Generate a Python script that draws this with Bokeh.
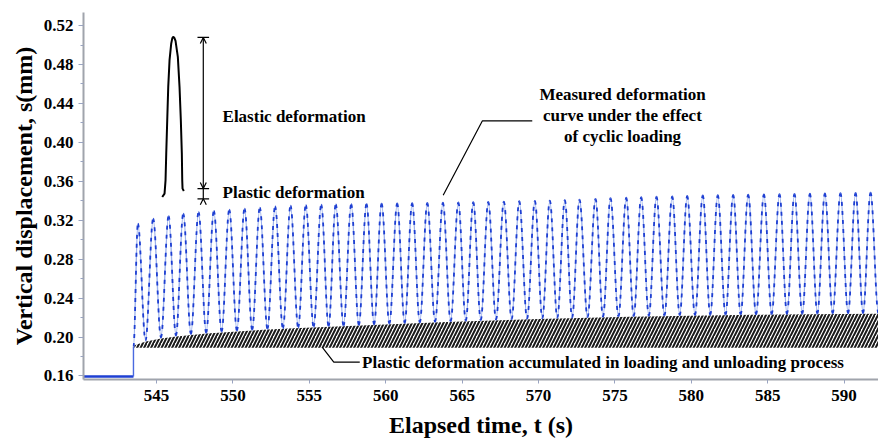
from bokeh.plotting import figure
from bokeh.models import ColumnDataSource, FixedTicker, PrintfTickFormatter, Arrow, OpenHead, Range1d
from bokeh.core.properties import value
from bokeh.embed import file_html
from bokeh.resources import INLINE

# ---------------- data ----------------
x_ticks = [545, 550, 555, 560, 565, 570, 575, 580, 585, 590]
y_ticks = [0.16, 0.20, 0.24, 0.28, 0.32, 0.36, 0.40, 0.44, 0.48, 0.52]
y_minor = [0.18, 0.22, 0.26, 0.30, 0.34, 0.38, 0.42, 0.46, 0.50]

# before loading
base_t = [540.0, 543.49]
base_v = [0.1595, 0.1595]
jump_t = 543.49
jump_v = 0.190

# cycle peaks
peak_t = [543.78, 544.78, 545.79, 546.75, 547.75, 548.75, 549.76, 550.76, 551.76, 552.76,
          553.77, 554.77, 555.78, 556.73, 557.74, 558.74, 559.73, 560.75, 561.73, 562.72,
          563.74, 564.75, 565.73, 566.71, 567.73, 568.74, 569.76, 570.74, 571.72, 572.68,
          573.73, 574.71, 575.74, 576.72, 577.72, 578.75, 579.73, 580.75, 581.73, 582.74,
          583.72, 584.75, 585.77, 586.75, 587.76, 588.74, 589.76, 590.75, 591.73]
peak_v = [0.3165, 0.3217, 0.3243, 0.3268, 0.3284, 0.3295, 0.3309, 0.3319, 0.3330, 0.3343,
          0.3350, 0.3355, 0.3360, 0.3362, 0.3365, 0.3368, 0.3370, 0.3372, 0.3375, 0.3377,
          0.3380, 0.3383, 0.3386, 0.3389, 0.3392, 0.3395, 0.3398, 0.3402, 0.3406, 0.3412,
          0.3420, 0.3427, 0.3432, 0.3437, 0.3442, 0.3446, 0.3450, 0.3455, 0.3458, 0.3461,
          0.3463, 0.3466, 0.3469, 0.3471, 0.3473, 0.3475, 0.3478, 0.3481, 0.3484]
# cycle troughs (after each peak)
trough_t = [544.28, 545.29, 546.27, 547.25, 548.25, 549.26, 550.26, 551.26, 552.26, 553.27,
            554.27, 555.28, 556.26, 557.24, 558.24, 559.24, 560.24, 561.24, 562.23, 563.23,
            564.25, 565.24, 566.22, 567.22, 568.24, 569.25, 570.25, 571.23, 572.20, 573.21,
            574.22, 575.23, 576.23, 577.22, 578.24, 579.24, 580.24, 581.24, 582.24, 583.23,
            584.24, 585.26, 586.26, 587.26, 588.25, 589.25, 590.26, 591.24, 592.24]
trough_v = [0.1965, 0.1995, 0.2015, 0.2032, 0.2045, 0.2057, 0.2067, 0.2076, 0.2084, 0.2091,
            0.2098, 0.2105, 0.2111, 0.2117, 0.2124, 0.2131, 0.2138, 0.2144, 0.2150, 0.2156,
            0.2162, 0.2168, 0.2174, 0.2179, 0.2184, 0.2189, 0.2193, 0.2197, 0.2201, 0.2205,
            0.2209, 0.2212, 0.2215, 0.2218, 0.2221, 0.2224, 0.2226, 0.2228, 0.2230, 0.2232,
            0.2234, 0.2236, 0.2238, 0.2240, 0.2242, 0.2244, 0.2245, 0.2246, 0.2247]

# accumulated plastic deformation band
hatch_t = [543.55, 544.3, 545.3, 546.3, 547.3, 548.3, 549.3, 550.3, 552.0, 554.0, 556.0,
           558.0, 560.0, 562.0, 564.0, 566.0, 568.0, 570.0, 572.0, 574.0, 576.0, 578.0,
           580.0, 582.0, 584.0, 586.0, 588.0, 590.0, 592.5]
hatch_top = [0.1915, 0.1955, 0.1985, 0.2005, 0.2022, 0.2036, 0.2048, 0.2058, 0.2074, 0.2090,
             0.2103, 0.2116, 0.2130, 0.2142, 0.2154, 0.2166, 0.2176, 0.2186, 0.2194, 0.2202,
             0.2208, 0.2214, 0.2219, 0.2224, 0.2228, 0.2231, 0.2234, 0.2237, 0.2240]
hatch_base = 0.189

# schematic single cycle (annotation)
sch_t = [545.373, 545.524, 545.589, 545.635, 545.700, 545.766, 545.851, 545.962, 546.030,
         546.093, 546.160, 546.243, 546.394, 546.505, 546.590, 546.656, 546.682, 546.702, 546.787]
sch_v = [0.3439, 0.3473, 0.3610, 0.3885, 0.4227, 0.4570, 0.4844, 0.5016, 0.5068,
         0.5084, 0.5075, 0.5043, 0.4878, 0.4570, 0.4227, 0.3885, 0.3610, 0.3525, 0.3500]
dim_t = 548.06
dim_top = 0.5078
dim_mid = 0.3525
dim_bot = 0.3420

labels_t = [549.32, 549.32]
labels_v = [0.4268, 0.3487]
labels_txt = ["Elastic deformation", "Plastic deformation"]

meas_t = [575.5, 575.5, 575.5]
meas_v = [0.4488, 0.4272, 0.4056]
meas_txt = ["Measured deformation", "curve under the effect", "of cyclic loading"]
lead1_t = [569.59, 566.32, 563.76]
lead1_v = [0.4220, 0.4220, 0.3456]

acc_t = 558.45
acc_v = 0.1742
acc_txt = "Plastic deformation accumulated in loading and unloading process"
lead2_t = [555.84, 556.60, 558.30]
lead2_v = [0.1896, 0.1742, 0.1742]

# ---------------- figure ----------------
p = figure(width=878, height=442, x_range=Range1d(540.22, 592.25), y_range=Range1d(0.1564, 0.5334),
           output_backend="svg", toolbar_location=None,
           min_border_left=83, min_border_right=0, min_border_top=12, min_border_bottom=63)
p.outline_line_color = None
p.grid.visible = False
p.background_fill_color = "white"

FONT = "Liberation Serif"
for ax in (p.xaxis[0], p.yaxis[0]):
    ax.axis_line_color = "#a0a4ac"
    ax.axis_line_width = 2
    ax.major_tick_line_color = "#9aa4c0"
    ax.minor_tick_line_color = "#9aa4c0"
    ax.major_tick_in = 0
    ax.minor_tick_in = 0
    ax.major_label_text_font = FONT
    ax.major_label_text_font_style = "bold"
    ax.major_label_text_color = "black"
    ax.axis_label_text_font = FONT
    ax.axis_label_text_font_style = "bold"
    ax.axis_label_text_color = "black"

p.xaxis.ticker = FixedTicker(ticks=x_ticks)
p.xaxis.major_tick_out = 4
p.xaxis.major_label_text_font_size = "17px"
p.xaxis.major_label_standoff = 6
p.xaxis.axis_label = "Elapsed time, t (s)"
p.xaxis.axis_label_text_font_size = "24px"
p.xaxis.axis_label_standoff = 8

p.yaxis.ticker = FixedTicker(ticks=y_ticks, minor_ticks=y_minor)
p.yaxis.formatter = PrintfTickFormatter(format="%.2f")
p.yaxis.major_tick_out = 5
p.yaxis.minor_tick_out = 3
p.yaxis.major_label_text_font_size = "17px"
p.yaxis.major_label_standoff = 5
p.yaxis.axis_label = "Vertical displacement, s(mm)"
p.yaxis.axis_label_text_font_size = "24px"
p.yaxis.axis_label_standoff = 4

# hatched band
p.varea(x=hatch_t, y1=[hatch_base] * len(hatch_t), y2=hatch_top, fill_color="white",
        hatch_pattern="/", hatch_color="#1a1a1a", hatch_scale=7, hatch_weight=2.0)

# measured curve: smooth half-cycles between extrema
ext_t = [jump_t]
ext_v = [jump_v]
for a, b, c, d in zip(peak_t, peak_v, trough_t, trough_v):
    ext_t += [a, c]
    ext_v += [b, d]
K = 0.36
x0 = ext_t[:-1]; x1 = ext_t[1:]
y0 = ext_v[:-1]; y1 = ext_v[1:]
src = ColumnDataSource(dict(
    x0=x0, y0=y0, x1=x1, y1=y1,
    cx0=[a + K * (b - a) for a, b in zip(x0, x1)], cy0=y0,
    cx1=[b - K * (b - a) for a, b in zip(x0, x1)], cy1=y1))
p.bezier(x0="x0", y0="y0", x1="x1", y1="y1", cx0="cx0", cy0="cy0", cx1="cx1", cy1="cy1",
         source=src, line_color="#9bb0ec", line_width=1.4)
p.bezier(x0="x0", y0="y0", x1="x1", y1="y1", cx0="cx0", cy0="cy0", cx1="cx1", cy1="cy1",
         source=src, line_color="#1e3fd2", line_width=1.8, line_dash="4 5")
p.line(base_t, base_v, line_color="#1e3fd2", line_width=2.6)
p.segment(x0=[jump_t], y0=[base_v[-1]], x1=[jump_t], y1=[jump_v], line_color="#4a6ae0", line_width=1.4)

# schematic cycle
p.line(sch_t, sch_v, line_color="black", line_width=2)

# dimension lines
p.segment(x0=[dim_t], y0=[dim_bot], x1=[dim_t], y1=[dim_top], line_color="black", line_width=1.2)
p.segment(x0=[dim_t - 0.38] * 3, y0=[dim_top, dim_mid, dim_bot],
          x1=[dim_t + 0.38] * 3, y1=[dim_top, dim_mid, dim_bot], line_color="black", line_width=1.2)
p.add_layout(Arrow(x_start=dim_t, y_start=dim_mid + 0.02, x_end=dim_t, y_end=dim_top,
                   end=OpenHead(size=6, line_width=1.2), line_alpha=0))
p.add_layout(Arrow(x_start=dim_t, y_start=dim_top - 0.02, x_end=dim_t, y_end=dim_mid,
                   end=OpenHead(size=6, line_width=1.2), line_alpha=0))
p.add_layout(Arrow(x_start=dim_t, y_start=dim_bot - 0.01, x_end=dim_t, y_end=dim_bot,
                   end=OpenHead(size=6, line_width=1.2), line_alpha=0))

# texts
p.text(x=labels_t, y=labels_v, text=labels_txt, text_font=value(FONT), text_font_style="bold",
       text_font_size="17px", text_baseline="middle", text_align="left", text_color="black")
p.text(x=meas_t, y=meas_v, text=meas_txt, text_font=value(FONT), text_font_style="bold",
       text_font_size="17px", text_baseline="middle", text_align="center", text_color="black")
p.line(lead1_t, lead1_v, line_color="black", line_width=1.2)
p.text(x=[acc_t], y=[acc_v], text=[acc_txt], text_font=value(FONT), text_font_style="bold",
       text_font_size="17px", text_baseline="middle", text_align="left", text_color="black")
p.line(lead2_t, lead2_v, line_color="black", line_width=1.2)

open("out.html", "w").write(file_html(p, INLINE))
